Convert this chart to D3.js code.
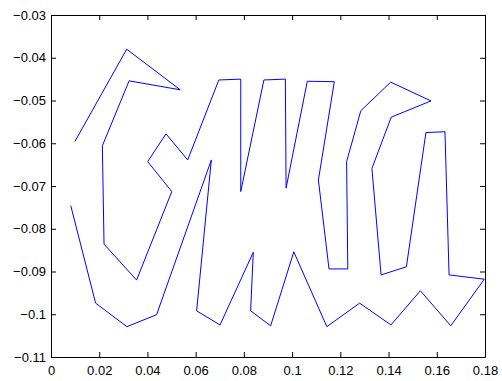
<!DOCTYPE html>
<html>
<head>
<meta charset="utf-8">
<script src="https://cdn.jsdelivr.net/npm/d3@7"></script>
<style>
  body { margin: 0; background: #fff; }
  text { font-family: "Liberation Sans", Arial, sans-serif; font-size: 13px; fill: #000; }
</style>
</head>
<body>
<div id="chart"></div>
<script>
// data: one continuous polyline
var xs = [0.0099, 0.0314, 0.0536, 0.0324, 0.0213, 0.0220, 0.0355, 0.0501, 0.0401, 0.0477,
          0.0567, 0.0696, 0.0787, 0.0787, 0.0883, 0.0972, 0.0975, 0.1063, 0.1175, 0.1109,
          0.1153, 0.1231, 0.1226, 0.1285, 0.1409, 0.1576, 0.1411, 0.1331, 0.1369, 0.1474,
          0.1555, 0.1634, 0.1651, 0.1797, 0.1658, 0.1532, 0.1410, 0.1280, 0.1144, 0.1007,
          0.0911, 0.0828, 0.0839, 0.0701, 0.0604, 0.0665, 0.0438, 0.0315, 0.0185, 0.0082];
var ys = [-0.0596, -0.0380, -0.0475, -0.0454, -0.0606, -0.0836, -0.0920, -0.0713, -0.0643, -0.0578,
          -0.0639, -0.0452, -0.0450, -0.0713, -0.0452, -0.0450, -0.0705, -0.0455, -0.0456, -0.0686,
          -0.0894, -0.0894, -0.0643, -0.0524, -0.0457, -0.0501, -0.0539, -0.0659, -0.0908, -0.0889,
          -0.0575, -0.0573, -0.0908, -0.0918, -0.1027, -0.0945, -0.1025, -0.0974, -0.1029, -0.0854,
          -0.1027, -0.0992, -0.0855, -0.1025, -0.0992, -0.0639, -0.1001, -0.1029, -0.0974, -0.0746];

var xTicks = [0, 0.02, 0.04, 0.06, 0.08, 0.1, 0.12, 0.14, 0.16, 0.18];
var yTicks = [-0.11, -0.1, -0.09, -0.08, -0.07, -0.06, -0.05, -0.04, -0.03];

var margin = {top: 15, right: 17, bottom: 24, left: 51},
    width = 502 - margin.left - margin.right,
    height = 381 - margin.top - margin.bottom;

var svg = d3.select("#chart")
    .append("svg")
    .attr("width", 502)
    .attr("height", 381)
    .append("g")
    .attr("transform", `translate(${margin.left},${margin.top})`);

var x = d3.scaleLinear().domain([0, 0.18]).range([0, width]);
var y = d3.scaleLinear().domain([-0.11, -0.03]).range([height, 0]);

var fmt = d => String(+d.toFixed(2)).replace("-", "\u2212");

// axes with inward ticks, mirrored on top and right
svg.append("g")
    .attr("transform", `translate(0,${height})`)
    .call(d3.axisBottom(x).tickValues(xTicks).tickFormat(fmt).tickSizeInner(-5).tickSizeOuter(0).tickPadding(9));
svg.append("g")
    .call(d3.axisTop(x).tickValues(xTicks).tickFormat("").tickSizeInner(-5).tickSizeOuter(0));
svg.append("g")
    .call(d3.axisLeft(y).tickValues(yTicks).tickFormat(fmt).tickSizeInner(-5).tickSizeOuter(0).tickPadding(5));
svg.append("g")
    .attr("transform", `translate(${width},0)`)
    .call(d3.axisRight(y).tickValues(yTicks).tickFormat("").tickSizeInner(-5).tickSizeOuter(0));

svg.selectAll(".domain, .tick line").attr("stroke", "#000");
svg.selectAll(".tick text").style("font-family", "'Liberation Sans', Arial, sans-serif").style("font-size", "13px");

// the curve
var pts = xs.map((v, i) => [v, ys[i]]);
svg.append("path")
    .datum(pts)
    .attr("fill", "none")
    .attr("stroke", "#0000ff")
    .attr("stroke-width", 1)
    .attr("d", d3.line().x(d => x(d[0])).y(d => y(d[1])));
</script>
</body>
</html>
